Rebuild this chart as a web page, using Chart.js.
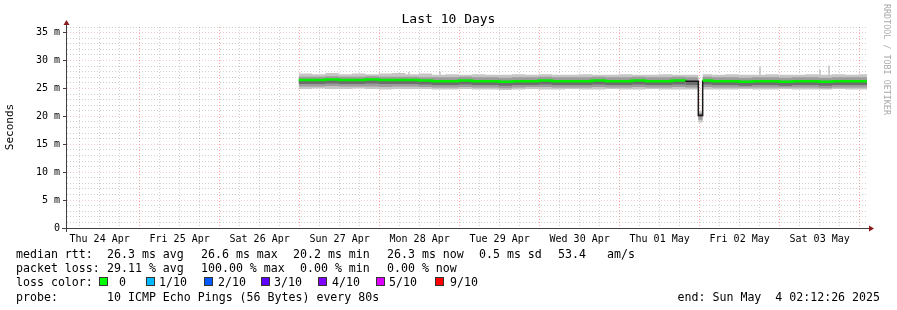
<!DOCTYPE html>
<html>
<head>
<meta charset="utf-8">
<script src="https://cdn.jsdelivr.net/npm/chart.js@4.4.0/dist/chart.umd.min.js"></script>
<style>
    body { margin: 0; background: #fff; }
    .wrap { position: relative; width: 897px; height: 310px; font-family: "DejaVu Sans Mono", monospace; color: #000; overflow: hidden; }
    canvas { position: absolute; left: 0; top: 0; }
    .title { position: absolute; left: 0; top: 11px; width: 897px; text-align: center; font-size: 13px; line-height: 16px; }
    .ylabel { position: absolute; left: -40px; top: 120px; width: 100px; height: 14px; line-height: 14px; text-align: center; font-size: 11px; color: #000; transform: rotate(-90deg); white-space: nowrap; }
    .mark { position: absolute; left: 882px; top: 4px; writing-mode: vertical-rl; font-size: 8.4px; color: #aaaaaa; white-space: nowrap; }
    .t { position: absolute; font-size: 11.6px; line-height: 14px; white-space: pre; }
    .box { position: absolute; width: 9px; height: 9px; box-sizing: border-box; border: 1px solid #333; }
</style>
</head>
<body>
<div class="wrap" id="wrap">
    <canvas id="myChart" width="897" height="310"></canvas>
    <div class="title">Last 10 Days</div>
    <div class="ylabel">Seconds</div>
    <div class="mark">RRDTOOL / TOBI OETIKER</div>
</div>
<script>
    // hours since start of graph (Thu 24 Apr 02:12:26), 240 h window
    const hours = [69.5, 73.5, 77.5, 81.5, 85.5, 89.5, 93.5, 97.5, 101.5, 105.5,
        109.5, 113.5, 117.5, 121.5, 125.5, 129.5, 133.5, 137.5, 141.5, 145.5,
        149.5, 153.5, 157.5, 161.5, 165.5, 169.5, 173.5, 177.5, 181.5, 185.5,
        189.4, 190.7,
        193.5, 197.5, 201.5, 205.5, 209.5, 213.5, 217.5, 221.5, 225.5, 229.5, 233.5, 237.5, 240]

    // median rtt (ms)
    const median = [26.5, 26.5, 26.6, 26.5, 26.5, 26.6, 26.5, 26.5, 26.5, 26.4,
        26.3, 26.3, 26.4, 26.3, 26.3, 26.2, 26.3, 26.3, 26.4, 26.3,
        26.3, 26.3, 26.4, 26.3, 26.3, 26.4, 26.3, 26.3, 26.4, 26.3,
        20.2, 26.4,
        26.3, 26.3, 26.2, 26.3, 26.3, 26.2, 26.3, 26.3, 26.2, 26.3, 26.3, 26.3, 26.3]

    // darkest smoke just under the median
    const coreLo = [25.8, 25.8, 25.9, 25.8, 25.8, 25.9, 25.8, 25.8, 25.8, 25.7,
        25.6, 25.6, 25.7, 25.6, 25.6, 25.5, 25.6, 25.6, 25.7, 25.6,
        25.6, 25.6, 25.7, 25.6, 25.6, 25.7, 25.6, 25.6, 25.7, 25.6,
        19.9, 25.7,
        25.6, 25.6, 25.5, 25.6, 25.6, 25.5, 25.6, 25.6, 25.5, 25.6, 25.6, 25.6, 25.6]

    // inner smoke band
    const darkLo = [25.35, 25.35, 25.45, 25.35, 25.35, 25.35, 25.25, 25.35, 25.35, 25.25,
        25.15, 25.15, 25.25, 25.15, 25.15, 25.05, 25.15, 25.25, 25.25, 25.15,
        25.15, 25.15, 25.25, 25.15, 25.15, 25.25, 25.15, 25.15, 25.25, 25.15,
        19.4, 25.25,
        25.15, 25.15, 25.15, 25.15, 25.15, 25.15, 25.15, 25.15, 25.05, 25.15, 25.15, 25.15, 25.15]
    const darkHi = [27.1, 27.1, 27.2, 27.1, 27.1, 27.2, 27.1, 27.1, 27.1, 27.0,
        27.0, 27.0, 27.1, 27.0, 27.0, 26.9, 27.0, 27.0, 27.1, 27.0,
        27.0, 27.0, 27.1, 27.0, 27.0, 27.1, 27.0, 27.0, 27.1, 27.0,
        20.6, 27.1,
        27.0, 27.0, 26.9, 27.0, 27.0, 26.9, 27.0, 27.0, 26.9, 27.0, 27.0, 27.0, 27.0]

    // outer smoke band
    const lightLo = [24.9, 25.0, 24.9, 24.9, 25.0, 24.9, 24.8, 24.9, 24.9, 24.9,
        24.8, 24.8, 24.9, 24.8, 24.8, 24.7, 24.8, 24.9, 24.8, 24.8,
        24.9, 24.8, 24.8, 24.9, 24.8, 24.8, 24.9, 24.8, 24.8, 24.8,
        18.9, 24.8,
        24.8, 24.8, 24.9, 24.8, 24.8, 24.9, 24.8, 24.8, 24.8, 24.9, 24.8, 24.8, 24.8]
    const lightHi = [27.65, 27.55, 27.75, 27.55, 27.65, 27.55, 27.65, 27.75, 27.55, 27.65,
        27.45, 27.55, 27.45, 27.55, 27.45, 27.45, 27.55, 27.45, 27.55, 27.45,
        27.45, 27.55, 27.45, 27.45, 27.55, 27.45, 27.45, 27.55, 27.45, 27.45,
        20.9, 27.55,
        27.45, 27.55, 27.45, 27.45, 27.55, 27.45, 27.45, 27.55, 27.45, 27.55, 27.45, 27.55, 27.55]

    // single outlier pings sticking out of the smoke
    const spikeHours = [102.6, 111.9, 207.9, 225.9, 228.6]
    const spikeBase = [27.4, 27.4, 27.4, 27.4, 27.4]
    const spikeTop = [27.95, 28.0, 28.85, 28.35, 29.1]

    const dayLabels = ['Thu 24 Apr', 'Fri 25 Apr', 'Sat 26 Apr', 'Sun 27 Apr', 'Mon 28 Apr',
        'Tue 29 Apr', 'Wed 30 Apr', 'Thu 01 May', 'Fri 02 May', 'Sat 03 May']
    const startHourOfDay = 2 + 12 / 60 + 26 / 3600

    const rttLabel = 'median rtt:'
    const rttStats = ['26.3 ms avg', '26.6 ms max', '20.2 ms min', '26.3 ms now', '0.5 ms sd', '53.4', 'am/s']
    const lossLabel = 'packet loss:'
    const lossStats = ['29.11 % avg', '100.00 % max', '0.00 % min', '0.00 % now']
    const lossColorLabel = 'loss color:'
    const lossLabels = ['0', '1/10', '2/10', '3/10', '4/10', '5/10', '9/10']
    const lossColors = ['#00ff00', '#00b8ff', '#0059ff', '#5e00ff', '#7e00ff', '#dd00ff', '#ff0000']
    const probeLabel = 'probe:'
    const probeText = '10 ICMP Echo Pings (56 Bytes) every 80s'
    const endText = 'end: Sun May  4 02:12:26 2025'

    // legend layout
    const wrap = document.getElementById('wrap')
    const rowTop = [246.5, 261.3, 274.7, 289.7]
    function addText(txt, x, y) {
        const el = document.createElement('div')
        el.className = 't'
        el.textContent = txt
        el.style.left = x + 'px'
        el.style.top = y + 'px'
        wrap.appendChild(el)
        return el
    }
    const rttX = [107, 201, 293, 387, 479, 558, 607]
    const lossX = [107, 201, 300, 387]
    const boxX = [99, 146, 204, 261, 318, 376, 435]
    const boxTextX = [119, 159, 218, 274, 332, 389, 450]
    addText(rttLabel, 16, rowTop[0])
    rttStats.forEach((s, i) => addText(s, rttX[i], rowTop[0]))
    addText(lossLabel, 16, rowTop[1])
    lossStats.forEach((s, i) => addText(s, lossX[i], rowTop[1]))
    addText(lossColorLabel, 16, rowTop[2])
    lossLabels.forEach((s, i) => {
        const b = document.createElement('div')
        b.className = 'box'
        b.style.left = boxX[i] + 'px'
        b.style.top = '277px'
        b.style.background = lossColors[i]
        wrap.appendChild(b)
        addText(s, boxTextX[i], rowTop[2])
    })
    addText(probeLabel, 16, rowTop[3])
    addText(probeText, 107, rowTop[3])
    const endEl = addText(endText, 0, rowTop[3])
    endEl.style.left = 'auto'
    endEl.style.right = '17px'

    const pts = arr => hours.map((h, i) => ({ x: h, y: arr[i] }))
    const spikePts = []
    spikeHours.forEach((h, i) => {
        spikePts.push({ x: h, y: spikeBase[i] }, { x: h, y: spikeTop[i] }, { x: h, y: null })
    })

    const gridGray = 'rgba(140,140,140,0.42)'
    const gridRed = 'rgba(255,50,50,0.45)'
    const gridRedSoft = 'rgba(220,110,110,0.38)'

    // axis lines with arrow heads, rrdtool style
    const axisArrows = {
        id: 'axisArrows',
        afterDraw(chart) {
            const { ctx, chartArea: a } = chart
            const x0 = a.left - 0.5
            const y0 = a.bottom + 0.5
            ctx.save()
            ctx.strokeStyle = '#404040'
            ctx.lineWidth = 1
            ctx.beginPath()
            ctx.moveTo(x0, a.bottom + 4)
            ctx.lineTo(x0, a.top - 3)
            ctx.moveTo(a.left - 5, y0)
            ctx.lineTo(a.right + 3, y0)
            ctx.stroke()
            ctx.fillStyle = '#8b1a1a'
            ctx.beginPath()
            ctx.moveTo(x0, a.top - 7)
            ctx.lineTo(x0 - 3, a.top - 2)
            ctx.lineTo(x0 + 3, a.top - 2)
            ctx.closePath()
            ctx.fill()
            ctx.beginPath()
            ctx.moveTo(a.right + 7, y0)
            ctx.lineTo(a.right + 2, y0 - 3)
            ctx.lineTo(a.right + 2, y0 + 3)
            ctx.closePath()
            ctx.fill()
            ctx.restore()
        }
    }

    const ctx = document.getElementById('myChart').getContext('2d')
    const chart = new Chart(ctx, {
        type: 'line',
        data: {
            datasets: [{
                label: 'median',
                data: pts(median),
                borderColor: '#00f000',
                borderWidth: 2.5,
                stepped: true,
                fill: false,
                order: 0,
                segment: {
                    borderColor: c => Math.abs(c.p1.parsed.y - c.p0.parsed.y) > 2 ? '#1a1a1a' : undefined,
                    borderWidth: c => Math.abs(c.p1.parsed.y - c.p0.parsed.y) > 2 ? 1.5 : undefined
                }
            }, {
                label: 'core',
                data: pts(coreLo),
                borderWidth: 0,
                borderColor: 'rgba(0,0,0,0)',
                backgroundColor: '#6e6e6e',
                stepped: true,
                fill: '-1',
                order: 1
            }, {
                label: 'darkLo',
                data: pts(darkLo),
                borderWidth: 0,
                borderColor: 'rgba(0,0,0,0)',
                stepped: true,
                fill: false,
                order: 2
            }, {
                label: 'darkHi',
                data: pts(darkHi),
                borderWidth: 0,
                borderColor: 'rgba(0,0,0,0)',
                backgroundColor: '#9c9c9c',
                stepped: true,
                fill: '-1',
                order: 3
            }, {
                label: 'lightLo',
                data: pts(lightLo),
                borderWidth: 0,
                borderColor: 'rgba(0,0,0,0)',
                stepped: true,
                fill: false,
                order: 4
            }, {
                label: 'lightHi',
                data: pts(lightHi),
                borderWidth: 0,
                borderColor: 'rgba(0,0,0,0)',
                backgroundColor: '#c6c6c6',
                stepped: true,
                fill: '-1',
                order: 5
            }, {
                label: 'spikes',
                data: spikePts,
                borderColor: '#a8a8a8',
                borderWidth: 1,
                spanGaps: false,
                fill: false,
                order: 6
            }]
        },
        options: {
            responsive: false,
            animation: false,
            layout: { padding: { left: 0, top: 27, right: 30, bottom: 62 } },
            elements: { point: { radius: 0, hoverRadius: 0 }, line: { tension: 0 } },
            plugins: {
                legend: { display: false },
                title: { display: false },
                tooltip: { enabled: false }
            },
            scales: {
                x: {
                    type: 'linear',
                    min: 0,
                    max: 240,
                    offset: false,
                    afterBuildTicks: scale => {
                        const t = []
                        for (let k = 1; 6 * k - startHourOfDay <= 240; k++) {
                            t.push({ value: 6 * k - startHourOfDay })
                        }
                        scale.ticks = t
                    },
                    afterFit: scale => { scale.height = 20 },
                    grid: {
                        offset: false,
                        drawTicks: false,
                        color: c => c.index % 4 === 3 ? gridRed : gridGray
                    },
                    border: { display: false, dash: [1, 2] },
                    ticks: {
                        autoSkip: false,
                        maxRotation: 0,
                        padding: 5,
                        color: '#000',
                        font: { family: 'DejaVu Sans Mono', size: 10 },
                        callback: (v, i) => i % 4 === 1 ? dayLabels[(i - 1) / 4] : ''
                    }
                },
                y: {
                    min: 0,
                    max: 36,
                    afterBuildTicks: scale => {
                        const t = []
                        for (let v = 0; v <= 36; v++) t.push({ value: v })
                        scale.ticks = t
                    },
                    afterFit: scale => { scale.width = 67 },
                    grid: {
                        drawTicks: true,
                        tickLength: 4,
                        color: c => c.tick.value === 0 ? 'rgba(0,0,0,0)' : (c.tick.value % 5 === 0 ? gridRedSoft : gridGray),
                        tickColor: c => c.tick.value % 5 === 0 ? '#404040' : 'rgba(0,0,0,0)'
                    },
                    border: { display: false, dash: [1, 2] },
                    ticks: {
                        autoSkip: false,
                        padding: 3,
                        color: '#000',
                        font: { family: 'DejaVu Sans Mono', size: 10 },
                        callback: v => v === 0 ? '0' : (v % 5 === 0 ? v + ' m' : '')
                    }
                }
            }
        },
        plugins: [axisArrows]
    })
</script>
</body>
</html>
